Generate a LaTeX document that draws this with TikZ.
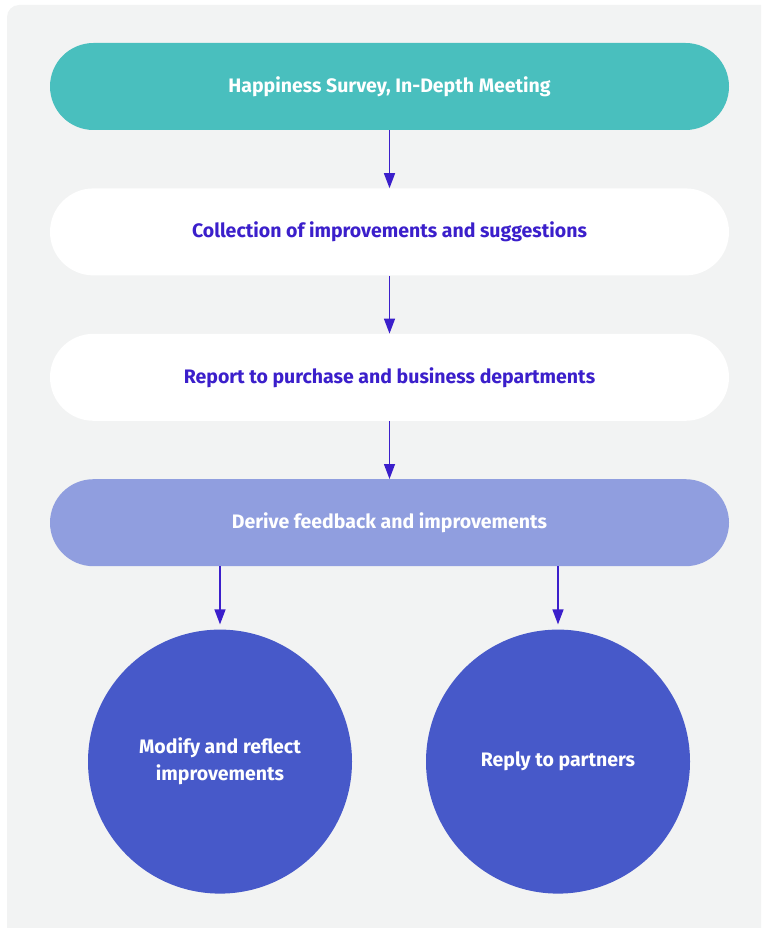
\documentclass[tikz,border=0pt]{standalone}
\usepackage{fontspec}
\setmainfont{Fira Sans}
\usepackage{tikz}
\usetikzlibrary{positioning,calc,arrows.meta}
\definecolor{hpTeal}{RGB}{73,191,190}
\definecolor{hpBg}{RGB}{242,243,243}
\definecolor{hpLav}{RGB}{144,158,223}
\definecolor{hpRoyal}{RGB}{71,89,201}
\definecolor{hpInk}{RGB}{59,31,203}

\begin{document}
\begin{tikzpicture}[
  x=1pt,y=1pt,
  node distance=58pt,
  pill/.style={rectangle,rounded corners=43.5pt,minimum width=679pt,minimum height=87pt,align=center,font=\fontsize{19.5}{23}\selectfont\bfseries,inner sep=0pt},
  topbox/.style={pill,fill=hpTeal,text=white},
  midbox/.style={pill,fill=white,text=hpInk},
  lowbox/.style={pill,fill=hpLav,text=white},
  circ/.style={circle,fill=hpRoyal,text=white,minimum size=264pt,align=center,font=\fontsize{19.5}{27}\selectfont\bfseries,inner sep=0pt},
  arrow/.style={-{Triangle[width=11pt,length=15pt]},line width=1.4pt,hpInk}
]
  \clip (0,0) rectangle (761,-928);
  \fill[hpBg,rounded corners=12pt] (7,-5) rectangle (800,-960);

  \node[topbox] (survey) at (389.5,-86.5) {Happiness Survey, In-Depth Meeting};
  \node[midbox,below=of survey] (collect) {Collection of improvements and suggestions};
  \node[midbox,below=of collect] (report) {Report to purchase and business departments};
  \node[lowbox,below=of report] (derive) {Derive feedback and improvements};
  \node[circ,below=63pt of derive.south,xshift=-169.5pt] (modify) {Modify and reflect\\improvements};
  \node[circ,below=63pt of derive.south,xshift=168.5pt] (reply) {Reply to partners};

  \draw[arrow] (survey) -- (collect);
  \draw[arrow] (collect) -- (report);
  \draw[arrow] (report) -- (derive);
  \draw[arrow,shorten >=5pt] (derive.south -| modify) -- (modify);
  \draw[arrow,shorten >=5pt] (derive.south -| reply) -- (reply);
\end{tikzpicture}
\end{document}
